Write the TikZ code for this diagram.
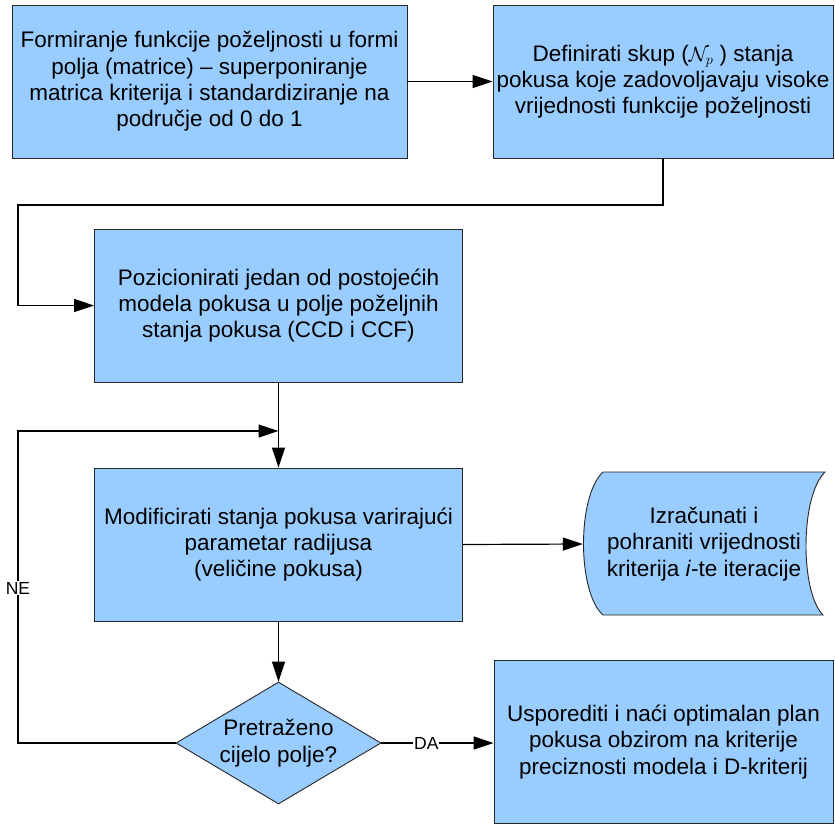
\documentclass[tikz,border=0pt]{standalone}
\usepackage{fontspec}
\setmainfont{Liberation Sans}
\usetikzlibrary{arrows.meta,shapes.geometric}
\definecolor{boxblue}{HTML}{99CCFF}
\begin{document}
\begin{tikzpicture}[x=1pt,y=-1pt,
  box/.style={draw=black!85,line width=0.9pt,fill=boxblue,align=center,inner sep=0pt,
    font=\fontsize{22.5}{26.3}\selectfont},
  decision/.style={draw=black!85,line width=0.9pt,fill=boxblue,shape=diamond,inner sep=0pt,
    minimum width=205pt,minimum height=122pt},
  txt/.style={align=center,font=\fontsize{22.5}{26.3}\selectfont},
  lbl/.style={fill=white,inner sep=1pt,font=\fontsize{17.5}{20}\selectfont},
  arr/.style={line width=1.2pt,-{Triangle[length=20pt,width=13pt]}}]
\useasboundingbox (0,0) rectangle (835,825);
\fill[white] (0,0) rectangle (835,825);

\node[box,minimum width=395pt,minimum height=153pt] (b1) at (209.5,81.5)
  {Formiranje funkcije poželjnosti u formi\\polja (matrice) – superponiranje\\matrica kriterija i standardiziranje na\\područje od 0 do 1};
\node[box,minimum width=340pt,minimum height=153pt] (b2) at (663,81.5)
  {Definirati skup ($\mathcal{N}_p$ ) stanja\\pokusa koje zadovoljavaju visoke\\vrijednosti funkcije poželjnosti};
\node[box,minimum width=368pt,minimum height=153pt] (b3) at (278.5,305.5)
  {Pozicionirati jedan od postojećih\\modela pokusa u polje poželjnih\\stanja pokusa (CCD i CCF)};
\node[box,minimum width=368pt,minimum height=153pt] (b4) at (278.5,544.5)
  {Modificirati stanja pokusa varirajući\\parametar radijusa\\(veličine pokusa)};

% stored data shape
\node[minimum width=242pt,minimum height=143pt,inner sep=0pt] (store) at (704,544) {};
\draw[draw=black!85,line width=0.9pt,fill=boxblue]
  (603,472) -- (825,472)
  .. controls (800,496) and (800,592) .. (823,615)
  -- (603,615)
  .. controls (577,592) and (577,496) .. (603,472) -- cycle;
\node[txt] (storetxt) at (store.center)
  {Izračunati i\\pohraniti vrijednosti\\kriterija \textit{i}-te iteracije};

\node[decision] (dec) at (278.5,743) {};
\node[txt] (dectxt) at (dec.center) {Pretraženo\\cijelo polje?};

\node[box,minimum width=339pt,minimum height=163pt] (b7) at (663.5,742)
  {Usporediti i naći optimalan plan\\pokusa obzirom na kriterije\\preciznosti modela i D-kriterij};

\coordinate (k1) at (18,205);
\coordinate (k2) at (18,431);
\coordinate (k3) at (278.5,431);

\draw[arr] (b1.east) -- (b2.west);
\draw[arr] (b2.south) |- (k1) |- (b3.west);
\draw[arr] (b3.south) -- (b4.north);
\draw[arr] (dec.west) -| (k2) -- (k3);
\node[lbl] (ne) at (18,588) {NE};
\draw[arr] (b4.east) -- (store.west);
\draw[arr] (b4.south) -- (dec.north);
\draw[arr] (dec.east) -- node[lbl,pos=0.4] (da) {DA} (b7.west |- dec.east);
\end{tikzpicture}
\end{document}
